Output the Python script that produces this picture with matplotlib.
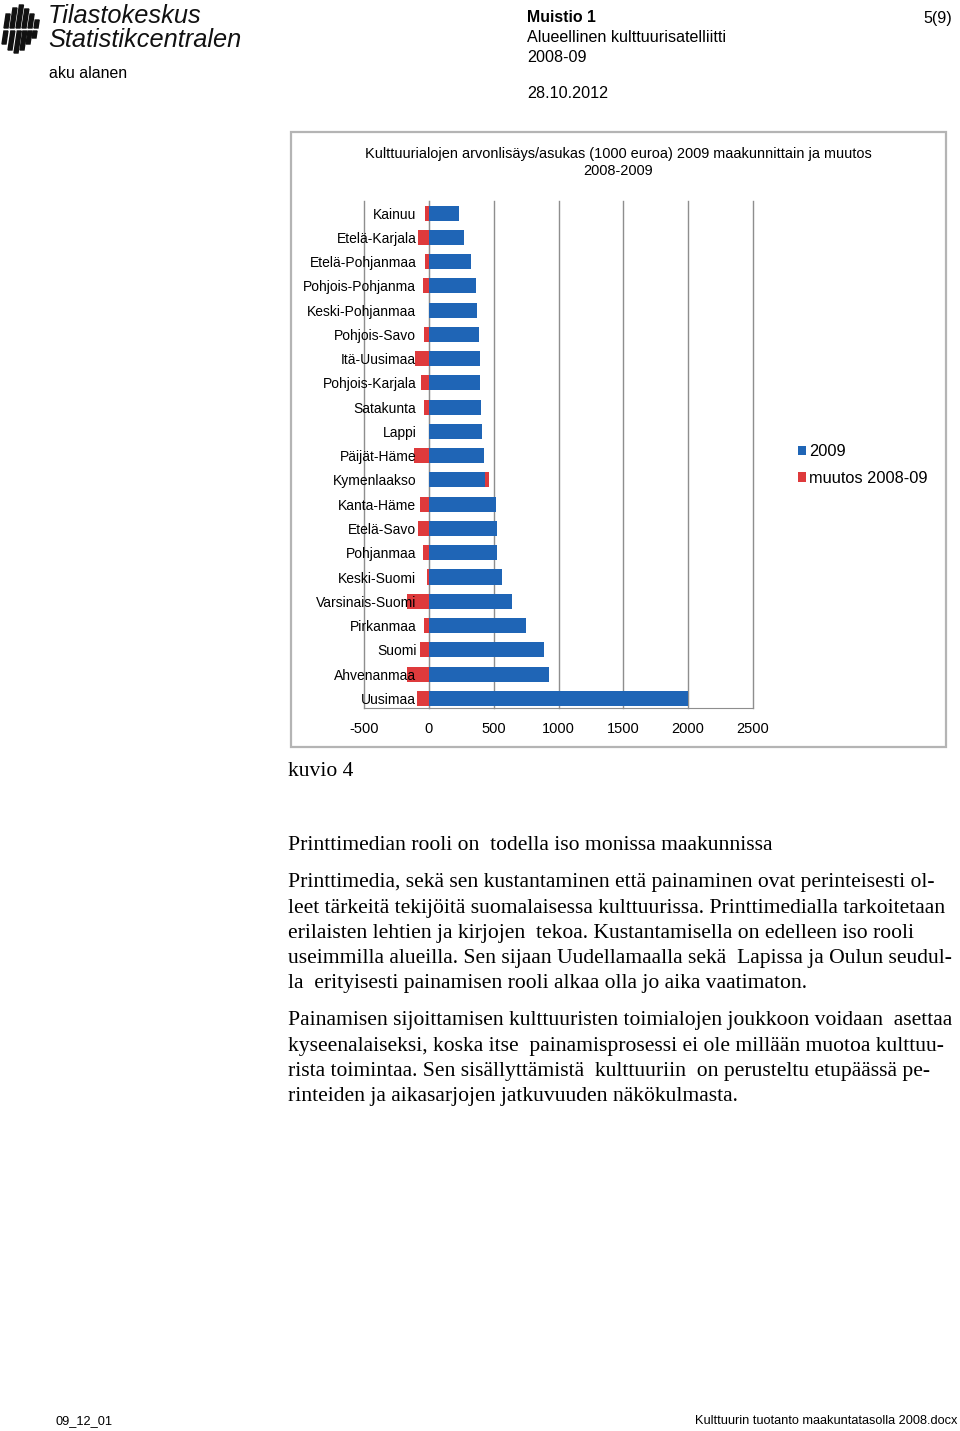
import matplotlib
matplotlib.use("Agg")
import matplotlib.pyplot as plt
from matplotlib.patches import Rectangle, Patch, Polygon
import numpy as np

W, H = 960, 1431

regions = ["Kainuu", "Etelä-Karjala", "Etelä-Pohjanmaa", "Pohjois-Pohjanma",
           "Keski-Pohjanmaa", "Pohjois-Savo", "Itä-Uusimaa", "Pohjois-Karjala",
           "Satakunta", "Lappi", "Päijät-Häme", "Kymenlaakso", "Kanta-Häme",
           "Etelä-Savo", "Pohjanmaa", "Keski-Suomi", "Varsinais-Suomi",
           "Pirkanmaa", "Suomi", "Ahvenanmaa", "Uusimaa"]
value_2009 = [229, 270, 329, 360, 375, 388, 396, 396, 401, 411, 422, 434,
              517, 524, 527, 566, 643, 748, 889, 923, 2000]
change_0809 = [-28, -82, -26, -44, -2, -39, -103, -59, -36, -2, -116, 28,
               -67, -87, -46, -15, -172, -41, -67, -172, -95]
x_ticks = [-500, 0, 500, 1000, 1500, 2000, 2500]
series_names = ["2009", "muutos 2008-09"]

BLUE = "#1F65B6"
RED = "#DE3A3C"
GRID = "#8E8E8E"

plt.rcParams["font.family"] = ["Liberation Sans", "DejaVu Sans"]

fig = plt.figure(figsize=(W / 100, H / 100), dpi=100)


def fx(x):
    return x / W


def fy(y):
    return 1 - y / H


# chart frame
fig.patches.append(Rectangle((fx(291), fy(747)), fx(946) - fx(291), fy(132) - fy(747),
                             transform=fig.transFigure, fill=False,
                             edgecolor="#B4B4B4", linewidth=1.6))

fig.text(fx(618), fy(162.5), "Kulttuurialojen arvonlisäys/asukas (1000 euroa) 2009 maakunnittain ja muutos\n2008-2009",
         ha="center", va="center", fontsize=10.45, linespacing=1.3)

ax = fig.add_axes([fx(364), fy(708), fx(753) - fx(364), fy(201) - fy(708)])
y = np.arange(len(regions))
blue = np.array(value_2009, dtype=float)
red = np.array(change_0809, dtype=float)
for t in x_ticks:
    ax.axvline(t, color=GRID, linewidth=1.0, zorder=0.5, clip_on=False)
ax.barh(y, blue, height=0.62, color=BLUE, zorder=2)
red_left = np.where(red >= 0, blue, 0)
ax.barh(y, red, left=red_left, height=0.62, color=RED, zorder=2)

ax.set_xlim(-500, 2500)
ax.set_ylim(len(regions) - 0.6, -0.5)
ax.set_xticks(x_ticks)
ax.set_xticklabels([str(t) for t in x_ticks], fontsize=10.5)
ax.set_yticks(y)
ax.set_yticklabels(regions, fontsize=11.5)
ax.tick_params(axis="y", length=0, pad=9)
ax.tick_params(axis="x", length=0, pad=10)
ax.xaxis.set_zorder(3)
ax.yaxis.set_zorder(3)
for s in ["top", "right"]:
    ax.spines[s].set_visible(False)
ax.spines["left"].set_position(("data", 0))
ax.spines["left"].set_color(GRID)
ax.spines["left"].set_zorder(1.5)
ax.spines["bottom"].set_color(GRID)
ax.patch.set_alpha(0)

handles = [Patch(facecolor=BLUE, edgecolor="none"), Patch(facecolor=RED, edgecolor="none")]
fig.legend(handles, series_names, loc="center left",
           bbox_to_anchor=(fx(783), fy(465)), frameon=False, fontsize=11.8,
           handlelength=0.5, handleheight=0.5, handletextpad=0.2, labelspacing=0.72)

# header logo (stylised slanted stripes)
stripes_top = [(4, 14, 28), (10, 8, 28), (16, 5, 28), (22, 9, 28), (28, 14, 28), (34, 20, 28)]
stripes_bot = [(2, 31, 44), (8, 31, 50), (14, 31, 53), (20, 31, 50), (26, 31, 44), (32, 31, 38)]
for x0, t, b in stripes_top + stripes_bot:
    sk = (b - t) * 0.15
    pts = [(fx(x0), fy(b)), (fx(x0 + 4), fy(b)), (fx(x0 + 4 + sk), fy(t)), (fx(x0 + sk), fy(t))]
    fig.patches.append(Polygon(pts, closed=True, transform=fig.transFigure,
                               color="#111111"))
fig.text(fx(48), fy(16), "Tilastokeskus", fontsize=18.3, style="italic", ha="left", va="center",
         color="#111111")
fig.text(fx(48), fy(40), "Statistikcentralen", fontsize=18.3, style="italic", ha="left", va="center",
         color="#111111")
fig.text(fx(49), fy(74), "aku alanen", fontsize=11.4, ha="left", va="center")
fig.text(fx(527), fy(18), "Muistio 1", fontsize=11.4, fontweight="bold", ha="left", va="center")
fig.text(fx(527), fy(38), "Alueellinen kulttuurisatelliitti", fontsize=11.6, ha="left", va="center")
fig.text(fx(527), fy(57), "2008-09", fontsize=11.6, ha="left", va="center")
fig.text(fx(527), fy(94), "28.10.2012", fontsize=11.6, ha="left", va="center")
fig.text(fx(952), fy(18), "5(9)", fontsize=11.6, ha="right", va="center")

# body
serif = ["Liberation Serif", "DejaVu Serif"]
BODY = 15.6
fig.text(fx(288), fy(772), "kuvio 4", fontsize=BODY, family=serif, ha="left", va="center")
fig.text(fx(288), fy(845), "Printtimedian rooli on  todella iso monissa maakunnissa",
         fontsize=BODY, family=serif, ha="left", va="center")
p1 = ["Printtimedia, sekä sen kustantaminen että painaminen ovat perinteisesti ol-",
      "leet tärkeitä tekijöitä suomalaisessa kulttuurissa. Printtimedialla tarkoitetaan",
      "erilaisten lehtien ja kirjojen  tekoa. Kustantamisella on edelleen iso rooli",
      "useimmilla alueilla. Sen sijaan Uudellamaalla sekä  Lapissa ja Oulun seudul-",
      "la  erityisesti painamisen rooli alkaa olla jo aika vaatimaton."]
p2 = ["Painamisen sijoittamisen kulttuuristen toimialojen joukkoon voidaan  asettaa",
      "kyseenalaiseksi, koska itse  painamisprosessi ei ole millään muotoa kulttuu-",
      "rista toimintaa. Sen sisällyttämistä  kulttuuriin  on perusteltu etupäässä pe-",
      "rinteiden ja aikasarjojen jatkuvuuden näkökulmasta."]
for i, line in enumerate(p1):
    fig.text(fx(288), fy(883 + i * 25.2), line, fontsize=BODY, family=serif, ha="left", va="center")
for i, line in enumerate(p2):
    fig.text(fx(288), fy(1021 + i * 25.2), line, fontsize=BODY, family=serif, ha="left", va="center")

# footer
fig.text(fx(55), fy(1421), "09_12_01", fontsize=9.2, ha="left", va="center")
fig.text(fx(957), fy(1421), "Kulttuurin tuotanto maakuntatasolla 2008.docx", fontsize=9.2,
         ha="right", va="center")

fig.savefig("out.png", dpi=100)
